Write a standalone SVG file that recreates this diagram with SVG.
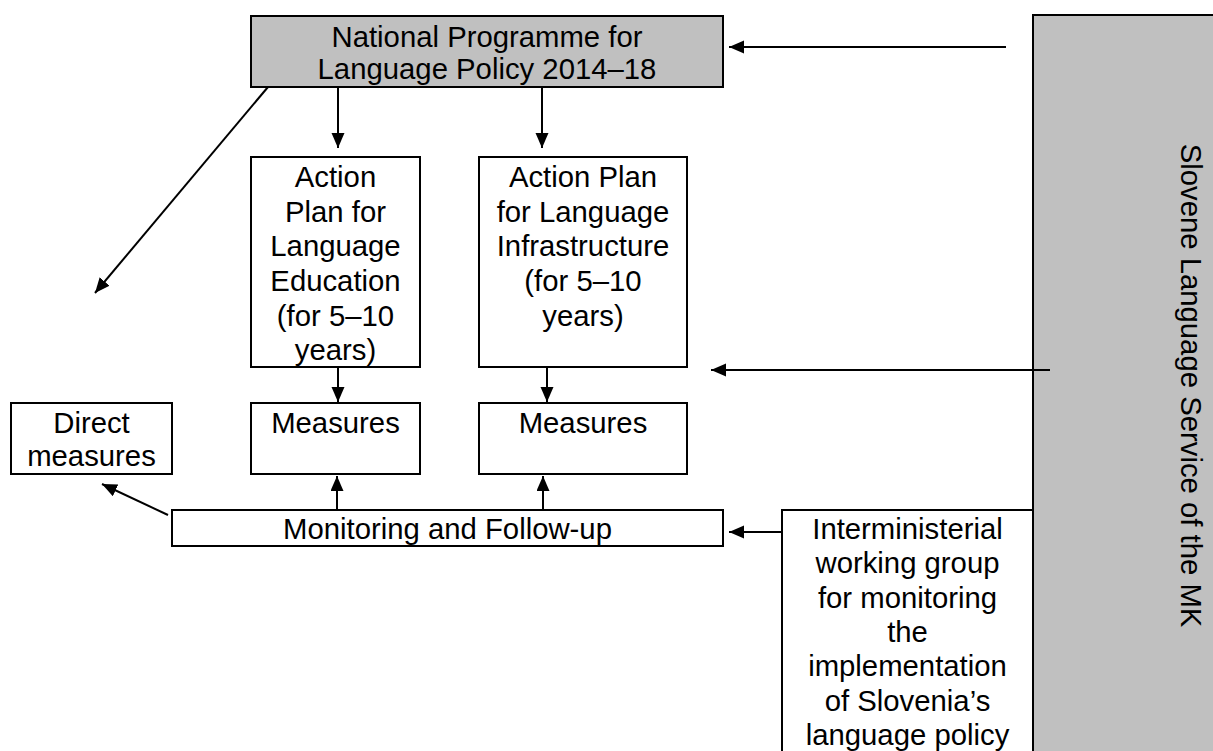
<svg xmlns="http://www.w3.org/2000/svg" width="1213" height="751" viewBox="0 0 1213 751">
<defs>
<marker id="ah" markerUnits="userSpaceOnUse" markerWidth="16" markerHeight="14" refX="15" refY="6.5" orient="auto">
<path d="M0,0 L15,6.5 L0,13 Z" fill="#000"/>
</marker>
</defs>
<style>
.box{fill:#fff;stroke:#000;stroke-width:2}
.gray{fill:#c0c0c0;stroke:#000;stroke-width:2}
.t{font-family:"Liberation Sans",Arial,sans-serif;font-size:29.3px;fill:#000;text-anchor:middle}
.c{stroke:#000;stroke-width:2;fill:none;marker-end:url(#ah)}
</style>
<rect width="1213" height="751" fill="#fff"/>
<g id="service">
<rect class="gray" x="1033" y="15" width="200" height="760"/>
<text class="t" transform="translate(1181,385.5) rotate(90)">Slovene Language Service of the MK</text>
</g>
<g id="national">
<rect class="gray" x="251" y="16" width="472" height="71"/>
<text class="t" x="487" y="47">National Programme for</text>
<text class="t" x="487" y="79">Language Policy 2014–18</text>
</g>
<g id="ap-education">
<rect class="box" x="251" y="157" width="169" height="210"/>
<text class="t" x="335.5" y="187">Action</text>
<text class="t" x="335.5" y="222">Plan for</text>
<text class="t" x="335.5" y="256">Language</text>
<text class="t" x="335.5" y="291">Education</text>
<text class="t" x="335.5" y="326">(for 5–10</text>
<text class="t" x="335.5" y="360">years)</text>
</g>
<g id="ap-infrastructure">
<rect class="box" x="479" y="157" width="208" height="210"/>
<text class="t" x="583" y="187">Action Plan</text>
<text class="t" x="583" y="222">for Language</text>
<text class="t" x="583" y="256">Infrastructure</text>
<text class="t" x="583" y="291">(for 5–10</text>
<text class="t" x="583" y="326">years)</text>
</g>
<g id="direct">
<rect class="box" x="11" y="403" width="161" height="71"/>
<text class="t" x="91.5" y="433">Direct</text>
<text class="t" x="91.5" y="466">measures</text>
</g>
<g id="measures1">
<rect class="box" x="251" y="403" width="169" height="71"/>
<text class="t" x="335.5" y="433">Measures</text>
</g>
<g id="measures2">
<rect class="box" x="479" y="403" width="208" height="71"/>
<text class="t" x="583" y="433">Measures</text>
</g>
<g id="monitoring">
<rect class="box" x="172" y="510" width="551" height="36"/>
<text class="t" x="447.5" y="539">Monitoring and Follow-up</text>
</g>
<g id="interministerial">
<rect class="box" x="782" y="510" width="251" height="260"/>
<text class="t" x="907.5" y="539">Interministerial</text>
<text class="t" x="907.5" y="573">working group</text>
<text class="t" x="907.5" y="608">for monitoring</text>
<text class="t" x="907.5" y="642">the</text>
<text class="t" x="907.5" y="676">implementation</text>
<text class="t" x="907.5" y="711">of Slovenia’s</text>
<text class="t" x="907.5" y="745">language policy</text>
</g>
<g id="connectors">
<line class="c" x1="1006" y1="47" x2="729" y2="47"/>
<line class="c" x1="338" y1="87" x2="338" y2="148"/>
<line class="c" x1="542" y1="87" x2="542" y2="148"/>
<line class="c" x1="268" y1="87" x2="95" y2="293"/>
<line class="c" x1="338" y1="367" x2="338" y2="402"/>
<line class="c" x1="547" y1="367" x2="547" y2="402"/>
<line class="c" x1="337" y1="510" x2="337" y2="476"/>
<line class="c" x1="543" y1="510" x2="543" y2="476"/>
<line class="c" x1="168" y1="515" x2="102" y2="484"/>
<line class="c" x1="1050" y1="370" x2="711" y2="370"/>
<line class="c" x1="782" y1="532" x2="729" y2="532"/>
</g>
</svg>
